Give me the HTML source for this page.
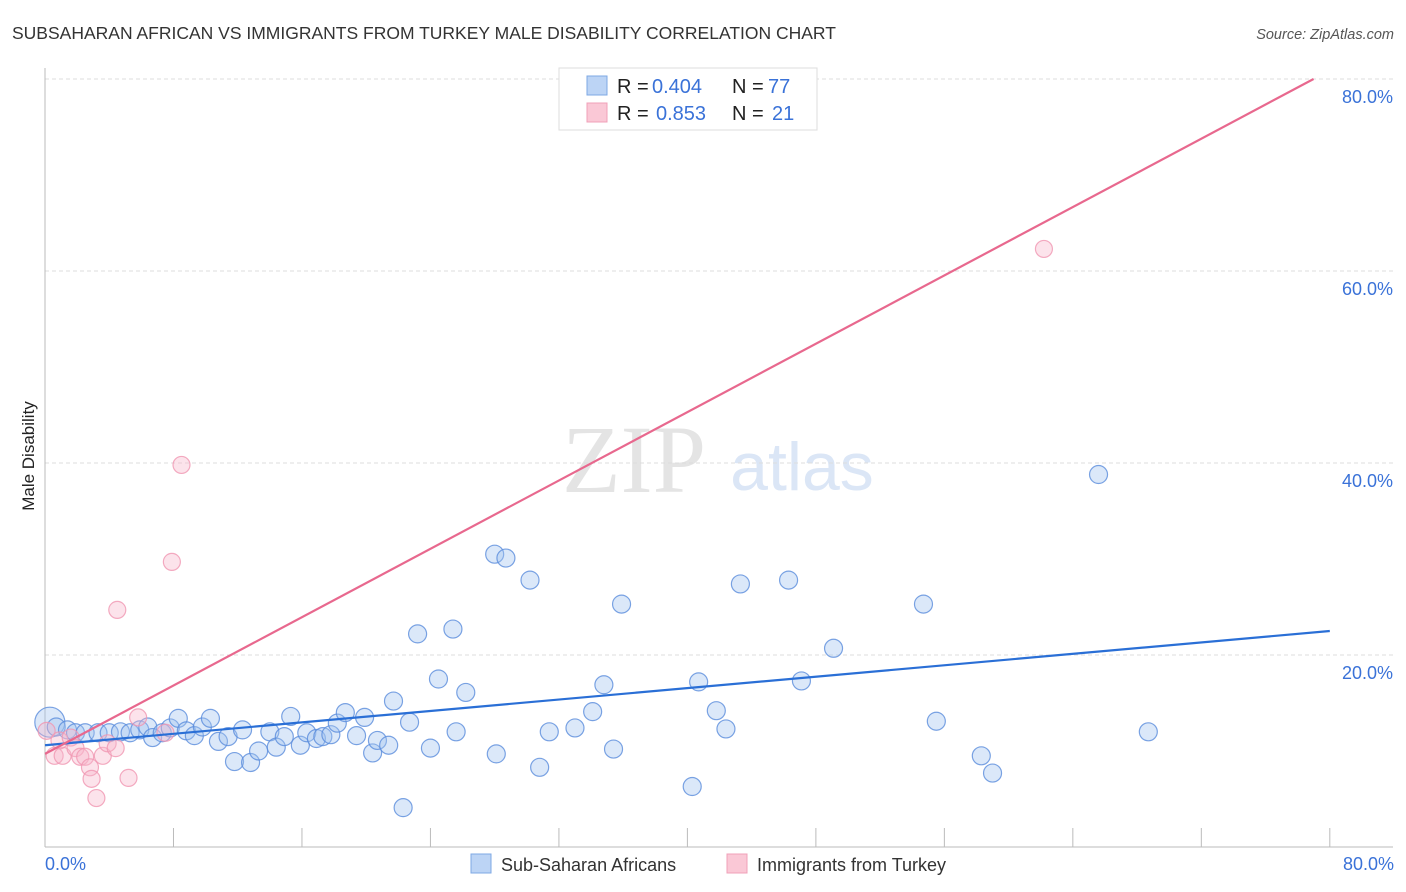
<!DOCTYPE html>
<html><head><meta charset="utf-8"><style>
body{margin:0;background:#fff;font-family:"Liberation Sans",sans-serif;}
#c{position:relative;width:1406px;height:892px;overflow:hidden;}
</style></head><body>
<div id="c">
<svg id="s" width="1406" height="892" xmlns="http://www.w3.org/2000/svg">
<text x="12" y="39" font-size="17.5" fill="#333">SUBSAHARAN AFRICAN VS IMMIGRANTS FROM TURKEY MALE DISABILITY CORRELATION CHART</text>
<text x="1394" y="39" font-size="14.5" fill="#555" font-style="italic" text-anchor="end">Source: ZipAtlas.com</text>
<text x="634" y="492" font-size="96" fill="#e4e4e4" text-anchor="middle" font-family="Liberation Serif,serif">ZIP</text>
<text x="802" y="490" font-size="68" fill="#dbe6f6" text-anchor="middle">atlas</text>
<text transform="translate(34,456) rotate(-90)" font-size="17" fill="#222" text-anchor="middle">Male Disability</text>
<g id="grid"></g><g id="pts"></g><g id="lines"></g>
<rect x="559" y="68" width="258" height="62" fill="#fff" stroke="#ddd"/>
<rect x="587" y="76" width="20" height="19" fill="#bcd4f5" stroke="#7ea8e4"/>
<rect x="587" y="103" width="20" height="19" fill="#fac8d6" stroke="#f0a0b8"/>
<g font-size="20">
<text x="617" y="93" fill="#222">R =</text><text x="652" y="93" fill="#3a72d8">0.404</text>
<text x="732" y="93" fill="#222">N =</text><text x="768" y="93" fill="#3a72d8">77</text></g>
<g font-size="20">
<text x="617" y="120" fill="#222">R =</text><text x="656" y="120" fill="#3a72d8">0.853</text>
<text x="732" y="120" fill="#222">N =</text><text x="772" y="120" fill="#3a72d8">21</text></g>
<rect x="471" y="854" width="20" height="19" fill="#bcd4f5" stroke="#7ea8e4"/>
<text x="501" y="871" font-size="18" fill="#333">Sub-Saharan Africans</text>
<rect x="727" y="854" width="20" height="19" fill="#fac8d6" stroke="#f0a0b8"/>
<text x="757" y="871" font-size="18" fill="#333">Immigrants from Turkey</text>
<text x="45" y="870" font-size="18" fill="#3a72d8">0.0%</text>
<text x="1394" y="870" font-size="18" fill="#3a72d8" text-anchor="end">80.0%</text>
</svg></div>
<script>
const blueX=[0.3,0.7,1.4,1.9,2.5,3.3,4.0,4.7,5.3,5.9,6.4,6.7,7.3,7.8,8.3,8.8,9.3,9.8,10.3,10.8,11.4,11.8,12.3,12.8,13.3,14.0,14.4,14.9,15.3,15.9,16.3,16.9,17.3,17.8,18.2,18.7,19.4,19.9,20.4,20.7,21.4,21.7,22.7,22.3,23.2,24.0,24.5,25.4,25.6,26.2,28.0,28.1,28.7,30.2,30.8,31.4,33.0,34.1,34.8,35.4,35.9,40.3,40.7,41.8,42.4,43.3,46.3,47.1,49.1,54.7,55.5,58.3,59.0,65.6,68.7];
const blueY=[13.0,12.5,12.2,11.9,11.9,11.9,11.9,12.0,11.9,12.2,12.5,11.4,11.9,12.4,13.4,12.1,11.6,12.5,13.4,11.0,11.5,8.9,12.2,8.8,10.0,12.0,10.4,11.5,13.6,10.6,11.9,11.3,11.5,11.7,12.9,14.0,11.6,13.5,9.8,11.1,10.6,15.2,13.0,4.1,22.2,10.3,17.5,22.7,12.0,16.1,30.5,9.7,30.1,27.8,8.3,12.0,12.4,14.1,16.9,10.2,25.3,6.3,17.2,14.2,12.3,27.4,27.8,17.3,20.7,25.3,13.1,9.5,7.7,38.8,12.0];
const pinkX=[0.1,0.6,1.1,0.9,1.6,1.9,2.2,2.5,2.8,2.9,3.2,3.6,3.9,4.4,4.5,5.2,5.8,7.5,7.9,8.5,62.2];
const pinkY=[12.1,9.5,9.5,11.1,11.4,10.3,9.4,9.4,8.3,7.1,5.1,9.5,10.8,10.3,24.7,7.2,13.5,11.9,29.7,39.8,62.3];
const blueTrend=[10.6,22.5];
const pinkTrend=[9.7,0.89];
const yTicks=[20,40,60,80];
const NS="http://www.w3.org/2000/svg";
const sx=v=>45+v*16.06, sy=v=>847-v*9.6;
function mk(t,a,p){const e=document.createElementNS(NS,t);for(const k in a)e.setAttribute(k,a[k]);p.appendChild(e);return e;}
const g=document.getElementById('grid');
yTicks.forEach(t=>{
 const l=mk('line',{x1:45,x2:1393,y1:sy(t),y2:sy(t),stroke:'#ddd','stroke-dasharray':'4,3'},g);
 
 
 const tx=mk('text',{x:1393,y:sy(t)+24,'font-size':18,fill:'#3a72d8','text-anchor':'end'},g);
 tx.textContent=t.toFixed(1)+'%';
 
 
});
const ax=mk('line',{x1:45,x2:45,y1:68,y2:847,stroke:'#bbb'},g);


const bx=mk('line',{x1:45,x2:1393,y1:847,y2:847,stroke:'#bbb'},g);


for(let i=0;i<=10;i++){
 const t=mk('line',{x1:sx(i*8),x2:sx(i*8),y1:828,y2:847,stroke:'#bbb'},g);
 
 
}
const p=document.getElementById('pts');
blueX.forEach((x,i)=>{
 const c=mk('circle',{cx:sx(x),cy:sy(blueY[i]),r:i==0?15:9,fill:'rgba(160,195,240,0.38)',stroke:'rgba(90,140,220,0.8)','stroke-width':1.2},p);
 
 
});
pinkX.forEach((x,i)=>{
 const c=mk('circle',{cx:sx(x),cy:sy(pinkY[i]),r:8.5,fill:'rgba(248,182,202,0.38)',stroke:'rgba(240,150,178,0.8)','stroke-width':1.2},p);
 
 
});
const L=document.getElementById('lines');
const bl=mk('line',{x1:sx(0),y1:sy(blueTrend[0]),x2:sx(80),y2:sy(blueTrend[1]),stroke:'#2a6fd6','stroke-width':2.2},L);


const xe=Math.min(80,(80-pinkTrend[0])/pinkTrend[1]);
const pl=mk('line',{x1:sx(0),y1:sy(pinkTrend[0]),x2:sx(xe),y2:sy(pinkTrend[0]+pinkTrend[1]*xe),stroke:'#e8688e','stroke-width':2.2},L);


</script>
</body></html>
